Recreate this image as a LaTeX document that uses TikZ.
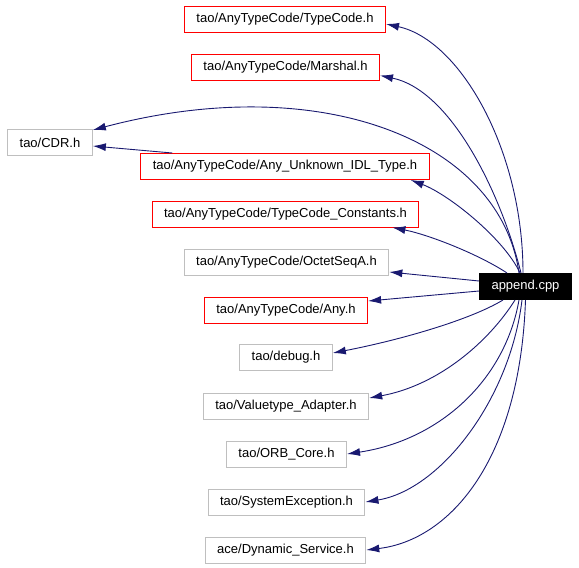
\documentclass[tikz,border=0pt]{standalone}
\usepackage{fontspec}
\setmainfont{Liberation Sans}
\usetikzlibrary{arrows.meta, positioning, calc}
\definecolor{edgeNavy}{HTML}{191970}
\definecolor{boxRed}{HTML}{FF0000}
\definecolor{boxGrey}{HTML}{BFBFBF}
\tikzset{
    % Header boxes
    fileBox/.style={rectangle, draw=boxGrey, line width=1pt, fill=white,
        inner xsep=12pt, inner ysep=0pt, minimum height=26pt,
        font=\fontsize{13}{15}\selectfont},
    docBox/.style={fileBox, draw=boxRed},
    rootBox/.style={fileBox, draw=black, fill=black, text=white},
    % Include arrows
    incArrow/.style={-{Latex[length=13pt,width=8pt]}, line width=0.9pt, draw=edgeNavy}
}

\begin{document}
\begin{tikzpicture}[x=1pt, y=-1pt]
    \useasboundingbox (0,0) rectangle (579,568);

    % Source file
    \node[rootBox] (app) at (525.5,286.5) {append.cpp};

    % Included headers
    \node[docBox]  (tc)      at (285,19.5)  {tao/AnyTypeCode/TypeCode.h};
    \node[docBox]  (marshal) at (285.5,67.5) {tao/AnyTypeCode/Marshal.h};
    \node[fileBox] (cdr)     at (50,142.5)  {tao/CDR.h};
    \node[docBox]  (unknown) at (285,166.5) {tao/AnyTypeCode/Any\_Unknown\_IDL\_Type.h};
    \node[docBox]  (tcconst) at (285.5,214) {tao/AnyTypeCode/TypeCode\_Constants.h};
    \node[fileBox] (octet)   at (286.5,262) {tao/AnyTypeCode/OctetSeqA.h};
    \node[docBox]  (any)     at (286,310)   {tao/AnyTypeCode/Any.h};
    \node[fileBox] (debug)   at (286,357.5) {tao/debug.h};
    \node[fileBox] (vtadapt) at (286,406)   {tao/Valuetype\_Adapter.h};
    \node[fileBox] (orbcore) at (286.5,454) {tao/ORB\_Core.h};
    \node[fileBox] (sysexc)  at (286.5,502) {tao/SystemException.h};
    \node[fileBox] (dynsvc)  at (285.5,550) {ace/Dynamic\_Service.h};

    % Upper edges
    \draw[incArrow] ([xshift=-2.5pt]app.north) .. controls (523,150) and (460,40) .. ([yshift=-4.5pt]tc.east);
    \draw[incArrow] ([xshift=-4.5pt]app.north) .. controls (500,190) and (450,90) .. ([yshift=-8pt]marshal.east);
    \draw[incArrow] ([xshift=-6.5pt]app.north) .. controls (500,140) and (320,70) .. ([yshift=-1pt]cdr.north east);
    \draw[incArrow] ([xshift=-5.5pt]app.north) .. controls (505,240) and (450,195) .. ([xshift=-19pt]unknown.south east);
    \draw[incArrow] ([xshift=-18.5pt]app.north) .. controls (480,255) and (430,235) .. ([xshift=-27pt]tcconst.south east);
    \draw[incArrow] ([xshift=32pt]unknown.north west) -- ([yshift=-3.5pt]cdr.east);

    % Side edges
    \draw[incArrow] ([yshift=5.5pt]app.west) -- ([yshift=-10pt]octet.east);
    \draw[incArrow] ([yshift=-4.5pt]app.west) -- ([yshift=9pt]any.east);

    % Lower edges
    \draw[incArrow] ([xshift=-22.5pt]app.south) .. controls (470,320) and (400,340) .. ([yshift=4.5pt]debug.east);
    \draw[incArrow] ([xshift=-10.5pt]app.south) .. controls (490,340) and (440,385) .. ([yshift=8pt]vtadapt.east);
    \draw[incArrow] ([xshift=-6.5pt]app.south) .. controls (505,380) and (440,440) .. (orbcore.east);
    \draw[incArrow] ([xshift=-3.5pt]app.south) .. controls (510,400) and (440,490) .. (sysexc.east);
    \draw[incArrow] (app.south) .. controls (520,460) and (450,540) .. (dynsvc.east);
\end{tikzpicture}
\end{document}
